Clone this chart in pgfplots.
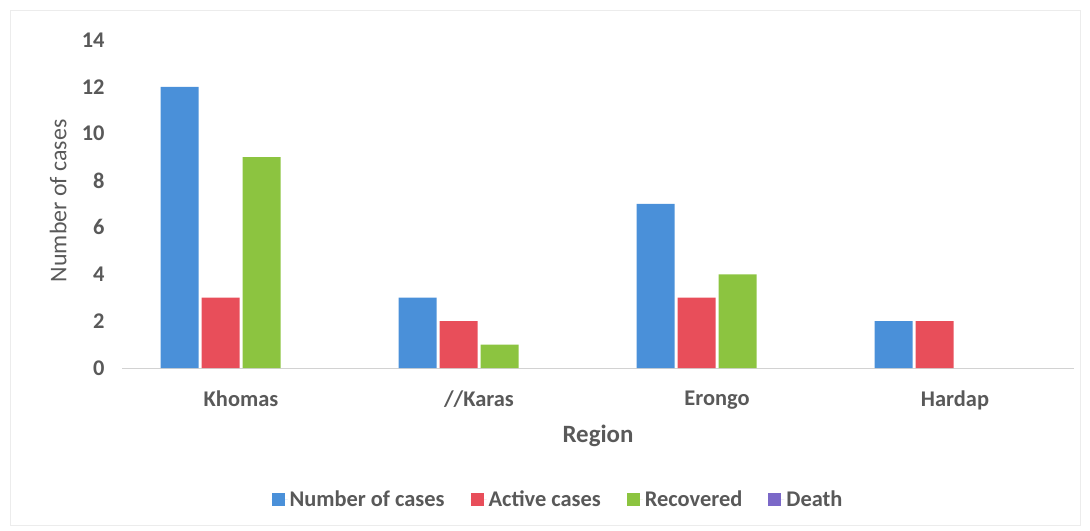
\documentclass[border=0pt]{standalone}
\usepackage{fontspec}
\setmainfont{Carlito}
\usepackage{pgfplots}
\pgfplotsset{compat=1.18}
\definecolor{cblue}{RGB}{74,144,217}
\definecolor{cred}{RGB}{232,78,90}
\definecolor{cgreen}{RGB}{140,196,64}
\definecolor{cpurple}{RGB}{123,104,200}
\definecolor{txt}{RGB}{89,89,89}
\begin{document}
\begin{tikzpicture}
\useasboundingbox (0,0) rectangle (1090bp,531bp);
\draw[gray!15, line width=1bp] (10bp,5bp) rectangle (1080bp,520bp);
\begin{axis}[
  at={(122bp,163bp)}, anchor=south west,
  scale only axis, width=952bp, height=328bp,
  ybar, bar width=38bp,
  xmin=-0.5, xmax=3.5, ymin=0, ymax=14,
  xtick={0,1,2,3},
  xticklabels={Khomas,//Karas,Erongo,Hardap},
  ytick={0,2,...,14},
  major tick length=0pt,
  axis y line*=left,
  y axis line style={draw=none},
  axis x line*=bottom,
  x axis line style={gray!35, line width=1bp, -},
  /pgf/number format/assume math mode=true,
  tick label style={font=\fontsize{22.5}{26}\selectfont\bfseries, text=txt},
  xticklabel style={yshift=-19bp},
  yticklabel style={xshift=-14bp},
  xlabel={Region},
  xlabel style={font=\fontsize{25}{28}\selectfont\bfseries, text=txt, at={(axis description cs:0.5,-0.207)}, anchor=center},
  ylabel={Number of cases},
  ylabel style={font=\fontsize{24}{28}\selectfont, text=txt, at={(axis description cs:-0.067,0.51)}, anchor=center},
  legend style={at={(axis description cs:0.458,-0.402)}, anchor=center, draw=none, font=\fontsize{22.5}{26}\selectfont\bfseries, text=txt, legend columns=-1, /tikz/every even column/.append style={column sep=24bp}},
  legend image code/.code={\fill[#1] (0bp,-6.5bp) rectangle (13bp,6.5bp); \path (0bp,0bp) -- (16bp,0bp);},
  clip=false,
]
\addplot[fill=cblue, draw=none, bar shift=-61.5bp] coordinates {(0,12) (1,3) (2,7) (3,2)};
\addplot[fill=cred, draw=none, bar shift=-20.5bp] coordinates {(0,3) (1,2) (2,3) (3,2)};
\addplot[fill=cgreen, draw=none, bar shift=20.5bp] coordinates {(0,9) (1,1) (2,4)};
\addlegendimage{fill=cpurple, draw=none}
\legend{Number of cases, Active cases, Recovered, Death}
\end{axis}
\end{tikzpicture}
\end{document}
